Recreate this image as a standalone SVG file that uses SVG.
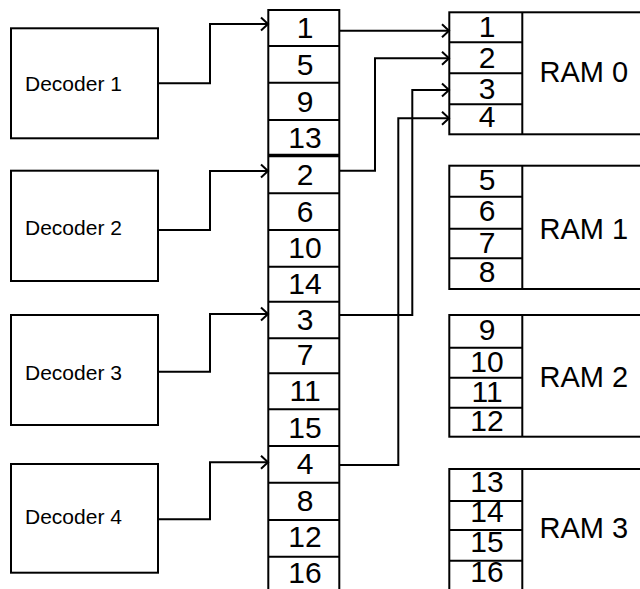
<svg xmlns="http://www.w3.org/2000/svg" width="640" height="589" viewBox="0 0 640 589">
<defs>
<style>
.box{fill:#fff;stroke:#000;stroke-width:2}
.ln{fill:none;stroke:#000;stroke-width:2}
.wire{fill:none;stroke:#000;stroke-width:2;marker-end:url(#arr)}
.dec{font-family:"Liberation Sans",Arial,sans-serif;font-size:21px;fill:#000}
.num{font-family:"Liberation Sans",Arial,sans-serif;font-size:30px;fill:#000;text-anchor:middle}
.ram{font-family:"Liberation Sans",Arial,sans-serif;font-size:29px;fill:#000}
</style>
<marker id="arr" markerUnits="userSpaceOnUse" markerWidth="12" markerHeight="16" viewBox="-9 -8 12 16" refX="0" refY="0" orient="auto">
<path d="M-7,-6.5 L0,0 L-7,6.5" fill="none" stroke="#000" stroke-width="2"/>
</marker>
</defs>
<rect width="640" height="589" fill="#fff"/>

<g id="decoder1"><rect class="box" x="11" y="28.3" width="147" height="110"/><text class="dec" x="25" y="91">Decoder 1</text></g>
<g id="decoder2"><rect class="box" x="11" y="170.7" width="147" height="110.3"/><text class="dec" x="25" y="235">Decoder 2</text></g>
<g id="decoder3"><rect class="box" x="11" y="315" width="147" height="110"/><text class="dec" x="25" y="380">Decoder 3</text></g>
<g id="decoder4"><rect class="box" x="11" y="464" width="147" height="108.7"/><text class="dec" x="25" y="524">Decoder 4</text></g>

<g id="interleave">
<rect class="box" x="268.3" y="10" width="71" height="600"/>
<path class="ln" d="M268.3 46H339.3M268.3 82.7H339.3M268.3 120H339.3M268.3 193.3H339.3M268.3 230H339.3M268.3 266.7H339.3M268.3 301.7H339.3M268.3 338.3H339.3M268.3 373.3H339.3M268.3 409.3H339.3M268.3 446H339.3M268.3 482.7H339.3M268.3 520H339.3M268.3 556.7H339.3"/>
<path d="M268.3 155.5H339.3" stroke="#000" stroke-width="3.5"/>
<text class="num" x="305" y="38">1</text>
<text class="num" x="305" y="74.5">5</text>
<text class="num" x="305" y="111.5">9</text>
<text class="num" x="305" y="147.5">13</text>
<text class="num" x="305" y="184.5">2</text>
<text class="num" x="305" y="221.5">6</text>
<text class="num" x="305" y="258">10</text>
<text class="num" x="305" y="293.5">14</text>
<text class="num" x="305" y="329.5">3</text>
<text class="num" x="305" y="364.5">7</text>
<text class="num" x="305" y="401">11</text>
<text class="num" x="305" y="438">15</text>
<text class="num" x="305" y="473.5">4</text>
<text class="num" x="305" y="511">8</text>
<text class="num" x="305" y="547">12</text>
<text class="num" x="305" y="582.5">16</text>
</g>

<g id="ram0">
<rect class="box" x="449.3" y="12.3" width="250" height="122"/>
<path class="ln" d="M522.3 12.3V134.3M449.3 42.3H522.3M449.3 73.3H522.3M449.3 104.3H522.3"/>
<text class="num" x="487" y="36.5">1</text>
<text class="num" x="487" y="68">2</text>
<text class="num" x="487" y="98.5">3</text>
<text class="num" x="487" y="127">4</text>
<text class="ram" x="539.5" y="81.7">RAM 0</text>
</g>
<g id="ram1">
<rect class="box" x="449.3" y="165.7" width="250" height="123.3"/>
<path class="ln" d="M522.3 165.7V289M449.3 196.7H522.3M449.3 228.7H522.3M449.3 258.3H522.3"/>
<text class="num" x="487" y="190">5</text>
<text class="num" x="487" y="220.5">6</text>
<text class="num" x="487" y="253">7</text>
<text class="num" x="487" y="281.5">8</text>
<text class="ram" x="539.5" y="239.3">RAM 1</text>
</g>
<g id="ram2">
<rect class="box" x="449.3" y="315" width="250" height="121.7"/>
<path class="ln" d="M522.3 315V436.7M449.3 347.7H522.3M449.3 377.7H522.3M449.3 407.7H522.3"/>
<text class="num" x="487" y="340">9</text>
<text class="num" x="487" y="371.5">10</text>
<text class="num" x="487" y="401.5">11</text>
<text class="num" x="487" y="431">12</text>
<text class="ram" x="539.5" y="386.5">RAM 2</text>
</g>
<g id="ram3">
<rect class="box" x="449.3" y="469" width="250" height="140"/>
<path class="ln" d="M522.3 469V600M449.3 501H522.3M449.3 530H522.3M449.3 560.7H522.3"/>
<text class="num" x="487" y="492">13</text>
<text class="num" x="487" y="521.5">14</text>
<text class="num" x="487" y="552">15</text>
<text class="num" x="487" y="582">16</text>
<text class="ram" x="539.5" y="538.3">RAM 3</text>
</g>

<g id="connectors">
<path class="wire" d="M158 83.3H210V24H268"/>
<path class="wire" d="M158 230H210V171H268"/>
<path class="wire" d="M158 371.7H210V314H268"/>
<path class="wire" d="M158 519.3H210V462.3H268"/>
<path class="wire" d="M339.3 30.7H449"/>
<path class="wire" d="M339.3 170.7H375V58.3H449"/>
<path class="wire" d="M339.3 315H412.3V90H449"/>
<path class="wire" d="M339.3 465H398.3V118.3H449"/>
</g>
</svg>
